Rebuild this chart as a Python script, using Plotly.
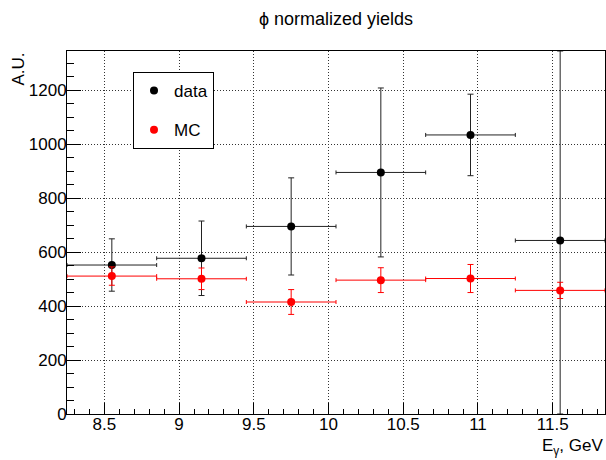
import plotly.graph_objects as go

# ---- data ----
bin_centers = [8.55, 9.15, 9.75, 10.35, 10.95, 11.55]
bin_halfwidth = [0.3, 0.3, 0.3, 0.3, 0.3, 0.3]
data_y = [552, 577, 695, 895, 1034, 643]
data_err_up = [97, 138, 180, 313, 151, 702]
data_err_down = [97, 138, 180, 313, 151, 643]
mc_y = [511, 501, 415, 496, 502, 458]
mc_err = [34, 40, 46, 46, 52, 30]

x_tick_vals = [8.5, 9, 9.5, 10, 10.5, 11, 11.5]
x_tick_text = ["8.5", "9", "9.5", "10", "10.5", "11", "11.5"]
y_tick_vals = [0, 200, 400, 600, 800, 1000, 1200]
y_tick_text = ["0", "200", "400", "600", "800", "1000", "1200"]

FONT = "Liberation Sans, Arial, Helvetica, sans-serif"

fig = go.Figure()

fig.add_trace(go.Scatter(
    x=bin_centers, y=data_y, mode="markers", name="data",
    legendgroup="a",
    marker=dict(color="black", size=8),
    error_x=dict(type="data", array=bin_halfwidth, color="#222", thickness=1, width=2),
    error_y=dict(type="data", symmetric=False, array=data_err_up, arrayminus=data_err_down,
                 color="#222", thickness=1, width=3),
))
fig.add_trace(go.Scatter(
    x=bin_centers, y=mc_y, mode="markers", name="MC",
    legendgroup="b",
    marker=dict(color="#ff0000", size=8),
    error_x=dict(type="data", array=bin_halfwidth, color="#ff0000", thickness=1, width=2),
    error_y=dict(type="data", array=mc_err, color="#ff0000", thickness=1, width=3),
))

grid_dash = "1px,2px"

fig.update_layout(
    width=606, height=460,
    margin=dict(l=67, r=1, t=51, b=46),
    paper_bgcolor="white", plot_bgcolor="white",
    font=dict(family=FONT, size=17, color="black"),
    title=dict(text="ϕ normalized yields", x=(67 + 605) / 2 / 606, xanchor="center",
               y=1 - 19 / 460, yanchor="middle", font=dict(size=18, family=FONT)),
    showlegend=True,
    legend=dict(x=(133 - 67) / 538, y=(414 - 72) / 363, xanchor="left", yanchor="top",
                bordercolor="black", borderwidth=1, bgcolor="white",
                font=dict(size=17, family=FONT), itemwidth=30, tracegroupgap=14),
    xaxis=dict(
        range=[8.25, 11.85], tickmode="array", tickvals=x_tick_vals, ticktext=x_tick_text,
        ticks="inside", ticklen=11, tickcolor="black", tickwidth=1,
        showline=True, linecolor="black", linewidth=1, mirror=True,
        showgrid=True, gridcolor="#333", griddash=grid_dash, gridwidth=1,
        zeroline=False,
        minor=dict(dtick=0.1, tick0=8.2, ticks="inside", ticklen=5, tickcolor="black", showgrid=False),
        ticklabelstandoff=-5,
    ),
    yaxis=dict(
        range=[0, 1345], tickmode="array", tickvals=y_tick_vals, ticktext=y_tick_text,
        ticks="inside", ticklen=14, tickcolor="black", tickwidth=1,
        showline=True, linecolor="black", linewidth=1, mirror=True,
        showgrid=True, gridcolor="#333", griddash=grid_dash, gridwidth=1,
        zeroline=False,
        minor=dict(dtick=50, tick0=0, ticks="inside", ticklen=7, tickcolor="black", showgrid=False),
        ticklabelstandoff=-4,
    ),
    annotations=[
        dict(text="A.U.", xref="paper", yref="paper", x=-49 / 538, y=1.0,
             xanchor="center", yanchor="top", textangle=-90, showarrow=False,
             font=dict(size=17, family=FONT)),
        dict(text="E<sub>γ</sub>, GeV", xref="paper", yref="paper", x=1.0, y=-20 / 363,
             xanchor="right", yanchor="top", showarrow=False,
             font=dict(size=17, family=FONT)),
    ],
)

fig.write_html("out.html", config={"displayModeBar": False},
               post_script="document.body.style.margin='0';document.body.style.overflow='hidden';")
